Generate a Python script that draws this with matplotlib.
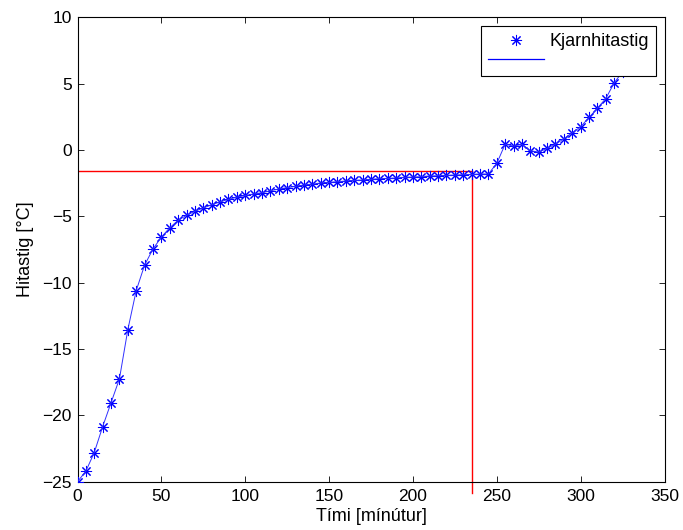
import matplotlib
matplotlib.use("Agg")
import matplotlib.pyplot as plt
from matplotlib.lines import Line2D

plt.rcParams['font.family'] = ['Liberation Sans', 'DejaVu Sans']

time_min = [0, 5, 10, 15, 20, 25, 30, 35, 40, 45, 50, 55, 60, 65, 70, 75, 80, 85, 90, 95,
            100, 105, 110, 115, 120, 125, 130, 135, 140, 145, 150, 155, 160, 165, 170, 175,
            180, 185, 190, 195, 200, 205, 210, 215, 220, 225, 230, 235, 240, 245, 250, 255,
            260, 265, 270, 275, 280, 285, 290, 295, 300, 305, 310, 315, 320, 325]
core_temp = [-25.0, -24.2, -22.8, -20.85, -19.05, -17.25, -13.55, -10.6, -8.68, -7.46, -6.57,
             -5.86, -5.3, -4.92, -4.62, -4.37, -4.13, -3.91, -3.72, -3.56,
             -3.43, -3.32, -3.22, -3.07, -2.94, -2.84, -2.74, -2.64, -2.57, -2.49,
             -2.44, -2.39, -2.34, -2.29, -2.26, -2.21, -2.16, -2.14, -2.11, -2.06,
             -2.04, -2.01, -1.96, -1.94, -1.91, -1.89, -1.86, -1.84, -1.81, -1.81,
             -1.01, 0.44, 0.29, 0.42, -0.06, -0.16, 0.12, 0.44, 0.85, 1.30,
             1.75, 2.45, 3.15, 3.88, 5.06, 5.9]

freeze_temp = -1.6
freeze_time = 235.5

x_ticks = [0, 50, 100, 150, 200, 250, 300, 350]
y_ticks = [-25, -20, -15, -10, -5, 0, 5, 10]

W, H = 683, 530
fig = plt.figure(figsize=(W / 100, H / 100), dpi=100)
left, right, top, bottom = 77.5, 664.5, 17.3, 481.7
ax = fig.add_axes([left / W, (H - bottom) / H, (right - left) / W, (bottom - top) / H])

blue = '#0000ff'
ax.plot(time_min, core_temp, linestyle='none', marker=(8, 2, 0), markersize=8,
        markeredgewidth=0.75, color=blue, zorder=3)
ax.plot(time_min, core_temp, linestyle='-', linewidth=0.7, color='#3030ff', zorder=3)

ax.plot([0, freeze_time], [freeze_temp, freeze_temp], color='#ff0000', linewidth=1.0, zorder=2)
ax.plot([freeze_time, freeze_time], [freeze_temp, -25.85], color='#ff0000', linewidth=1.0,
        zorder=2, clip_on=False)

ax.set_xlim(0, 350)
ax.set_ylim(-25, 10)
ax.set_xticks(x_ticks)
ax.set_yticks(y_ticks)
ax.set_xticklabels([str(v) for v in x_ticks])
ax.set_yticklabels([str(v).replace('-', '\u2212') for v in y_ticks])
ax.tick_params(direction='in', top=True, right=True, length=4.5, width=0.6,
               labelsize=12.5, colors='black')
ax.tick_params(axis='x', pad=5)
ax.tick_params(axis='y', pad=4)
for s in ax.spines.values():
    s.set_linewidth(0.8)

ax.set_xlabel('Tími [mínútur]', fontsize=13, labelpad=3)
ax.set_ylabel('Hitastig [°C]', fontsize=13, labelpad=6)

h1 = Line2D([], [], linestyle='none', marker=(8, 2, 0), markersize=8,
            markeredgewidth=0.75, color=blue)
h2 = Line2D([], [], linestyle='-', linewidth=0.9, color=blue)
leg = ax.legend([h1, h2], ['Kjarnhitastig', ''], loc='upper right',
                bbox_to_anchor=(656 / W, (H - 26) / H), bbox_transform=fig.transFigure,
                borderaxespad=0, fontsize=13,
                fancybox=False, framealpha=1, edgecolor='black',
                borderpad=0.4, handlelength=3.06, handletextpad=0.32,
                labelspacing=0.1)
leg.get_frame().set_linewidth(0.8)
leg.set_zorder(5)

fig.savefig('out.png', dpi=100)
